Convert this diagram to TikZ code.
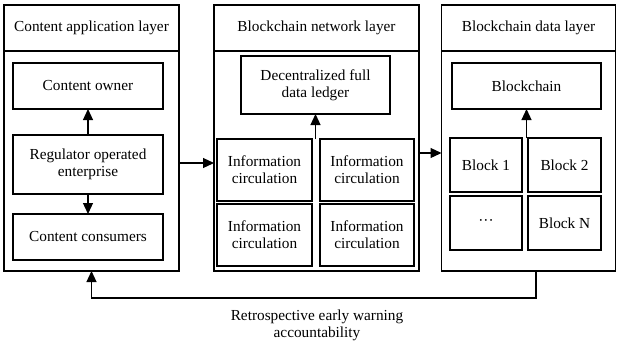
\documentclass[tikz,border=0pt]{standalone}
\usepackage{fontspec}
\setmainfont{Liberation Serif}
\usetikzlibrary{arrows.meta}
\begin{document}
\begin{tikzpicture}[x=1pt,y=-1pt,
  every node/.style={font=\fontsize{15.3}{17}\selectfont},
  box/.style={draw,line width=1.2pt,inner sep=0pt,outer sep=0pt,align=center},
  panel/.style={box,minimum width=#1,minimum height=266},
  header/.style={box,minimum width=#1,minimum height=46},
  arr/.style={line width=1.2pt,-{Triangle[length=11pt,width=10pt]}}]
\useasboundingbox (0,0) rectangle (617,341);

% three layer panels with their title bars
\node[panel=175] (appl) at (91.5,138) {};
\node[header=175] (applh) at (91.5,28) {Content application layer};
\node[panel=205] (net) at (316.5,138) {};
\node[header=205] (neth) at (316.5,28) {Blockchain network layer};
\node[panel=174] (data) at (528.5,138) {};
\node[header=174] (datah) at (528.5,28) {Blockchain data layer};

% content application layer
\node[box,minimum width=150,minimum height=46] (owner) at (88,86) {Content owner};
\node[box,minimum width=150,minimum height=59] (reg) at (88,164.5) {Regulator operated\\enterprise};
\node[box,minimum width=150,minimum height=46] (cons) at (88,237) {Content consumers};

% blockchain network layer
\node[box,minimum width=149,minimum height=58] (ledger) at (315.5,85) {Decentralized full\\data ledger};
\node[box,minimum width=95,minimum height=62] (ic11) at (264.5,170) {Information\\circulation};
\node[box,minimum width=94,minimum height=62] (ic12) at (367,170) {Information\\circulation};
\node[box,minimum width=95,minimum height=62] (ic21) at (264.5,235) {Information\\circulation};
\node[box,minimum width=94,minimum height=62] (ic22) at (367,235) {Information\\circulation};

% blockchain data layer
\node[box,minimum width=149,minimum height=46] (chain) at (526.5,86) {Blockchain};
\node[box,minimum width=72,minimum height=54] (b1) at (486,165) {Block 1};
\node[box,minimum width=73,minimum height=54] (b2) at (564.5,165) {Block 2};
\node[box,minimum width=72,minimum height=54] (bdots) at (486,223) {···};
\node[box,minimum width=73,minimum height=54] (bn) at (564.5,223) {Block N};

% connectors
\draw[arr] (reg.north) -- (owner.south);
\draw[arr] (reg.south) -- (cons.north);
\draw[arr] (appl.east |- 0,163) -- (net.west |- 0,163);
\draw[arr] (ledger.south |- ic11.north) -- (ledger.south);
\draw[arr] (net.east |- 0,153) -- (data.west |- 0,153);
\draw[arr] (chain.south |- b1.north) -- (chain.south);
\coordinate (fb) at (536,298);
\draw[arr] (fb |- data.south) -- (fb) -- (appl.south |- fb) -- (appl.south);
\node[align=center] (fblabel) at (317,325) {Retrospective early warning\\accountability};
\end{tikzpicture}
\end{document}
